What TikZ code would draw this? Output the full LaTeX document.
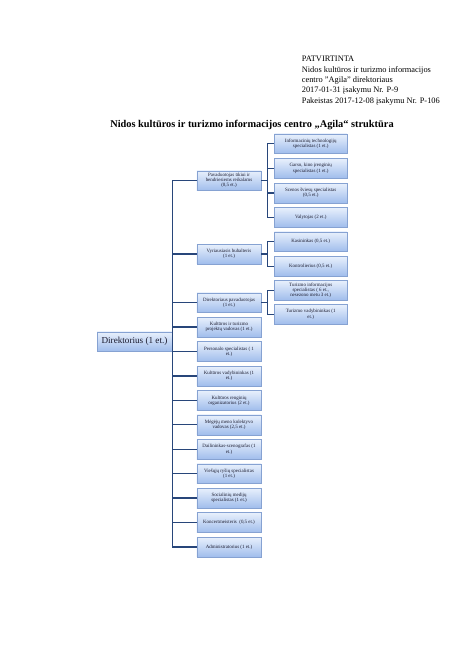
\documentclass[tikz,border=0pt]{standalone}
\usepackage{fontspec}
\setmainfont{Liberation Serif}
\usetikzlibrary{shadows}
\definecolor{boxtop}{RGB}{232,240,252}
\definecolor{boxbot}{RGB}{160,189,236}
\definecolor{boxline}{RGB}{134,162,210}
\definecolor{linkblue}{RGB}{40,70,122}
\definecolor{unittext}{RGB}{25,25,45}

\begin{document}
\begin{tikzpicture}[x=1.256pt,y=1.256pt,
  unit/.style={rectangle,draw=boxline,top color=boxtop,bottom color=boxbot,
    drop shadow={shadow xshift=1pt,shadow yshift=-1pt,opacity=0.35},
    inner sep=0.3pt,align=center,text=unittext,font=\fontsize{6.2}{6.4}\selectfont,
    minimum width=80.4pt,minimum height=25pt},
  subunit/.style={unit,minimum width=91pt,minimum height=24.5pt},
  link/.style={draw=linkblue,line width=1.5pt}]
\useasboundingbox (0,0) rectangle (474,670);

% approval note and title
\node[anchor=north west,align=left,inner sep=0,font=\fontsize{10.5}{13}\selectfont] (note) at (301.7,614)
  {PATVIRTINTA\\Nidos kultūros ir turizmo informacijos\\centro "Agila" direktoriaus\\2017-01-31 įsakymu Nr. P-9\\Pakeistas 2017-12-08 įsakymu Nr. P-106};
\node[font=\bfseries\fontsize{13}{15}\selectfont] (title) at (252,545) {Nidos kultūros ir turizmo informacijos centro „Agila“ struktūra};

% director
\node[unit,minimum width=94.2pt,minimum height=24pt,font=\fontsize{11.5}{13}\selectfont] (dir) at (134.5,328.5) {Direktorius (1 et.)};

% first level
\node[unit] (b1) at (229,489.3) {Pavaduotojas ūkiui ir\\bendriesiems reikalams\\(0,5 et.)};
\node[unit] (b2) at (229,416) {Vyriausiasis buhalteris\\(1 et.)};
\node[unit] (b3) at (229,367.3) {Direktoriaus pavaduotojas\\(1 et.)};
\node[unit] (b4) at (229,342.9) {Kultūros ir turizmo\\projektų vadovas (1 et.)};
\node[unit] (b5) at (229,318.4) {Personalo specialistas ( 1\\et.)};
\node[unit] (b6) at (229,294) {Kultūros vadybininkas (1\\et.)};
\node[unit] (b7) at (229,269.6) {Kultūros renginių\\organizatorius (2 et.)};
\node[unit] (b8) at (229,245.1) {Mėgėjų meno kolektyvo\\vadovas (2,5 et.)};
\node[unit] (b9) at (229,220.7) {Dailininkas-scenografas (1\\et.)};
\node[unit] (b10) at (229,196.3) {Viešųjų ryšių specialistas\\(1 et.)};
\node[unit] (b11) at (229,171.9) {Socialinių medijų\\specialistas (1 et.)};
\node[unit] (b12) at (229,147.4) {Koncertmeisteris\ \ (0,5 et.)};
\node[unit] (b13) at (229,123) {Administratorius (1 et.)};

% second level
\node[subunit] (c1) at (310.7,526.3) {Informacinių technologijų\\specialistas (1 et.)};
\node[subunit] (c2) at (310.7,501.7) {Garso, kino įrenginių\\specialistas (1 et.)};
\node[subunit] (c3) at (310.7,477) {Scenos šviesų specialistas\\(0,5 et.)};
\node[subunit] (c4) at (310.7,452.7) {Valytojas (2 et.)};
\node[subunit] (c5) at (310.7,428.3) {Kasininkas (0,5 et.)};
\node[subunit] (c6) at (310.7,403.7) {Kontrolierius (0,5 et.)};
\node[subunit] (c7) at (310.7,379.7) {Turizmo informacijos\\specialistas ( 6 et.,\\nesezono metu 3 et.)};
\node[subunit] (c8) at (310.7,355.7) {Turizmo vadybininkas (1\\et.)};

% connectors
\draw[link] (dir.east) |- (b1.west); \draw[link] (dir.east) |- (b2.west); \draw[link] (dir.east) |- (b3.west);
\draw[link] (dir.east) |- (b4.west); \draw[link] (dir.east) |- (b5.west); \draw[link] (dir.east) |- (b6.west);
\draw[link] (dir.east) |- (b7.west); \draw[link] (dir.east) |- (b8.west); \draw[link] (dir.east) |- (b9.west);
\draw[link] (dir.east) |- (b10.west); \draw[link] (dir.east) |- (b11.west); \draw[link] (dir.east) |- (b12.west);
\draw[link] (dir.east) |- (b13.west);
\draw[link] (b1.east) -| ([shift={(-7,0)}]c1.west) -- (c1.west); \draw[link] (b1.east) -| ([shift={(-7,0)}]c2.west) -- (c2.west);
\draw[link] (b1.east) -| ([shift={(-7,0)}]c3.west) -- (c3.west); \draw[link] (b1.east) -| ([shift={(-7,0)}]c4.west) -- (c4.west);
\draw[link] (b2.east) -| ([shift={(-7,0)}]c5.west) -- (c5.west); \draw[link] (b2.east) -| ([shift={(-7,0)}]c6.west) -- (c6.west);
\draw[link] (b3.east) -| ([shift={(-7,0)}]c7.west) -- (c7.west); \draw[link] (b3.east) -| ([shift={(-7,0)}]c8.west) -- (c8.west);
\end{tikzpicture}
\end{document}
